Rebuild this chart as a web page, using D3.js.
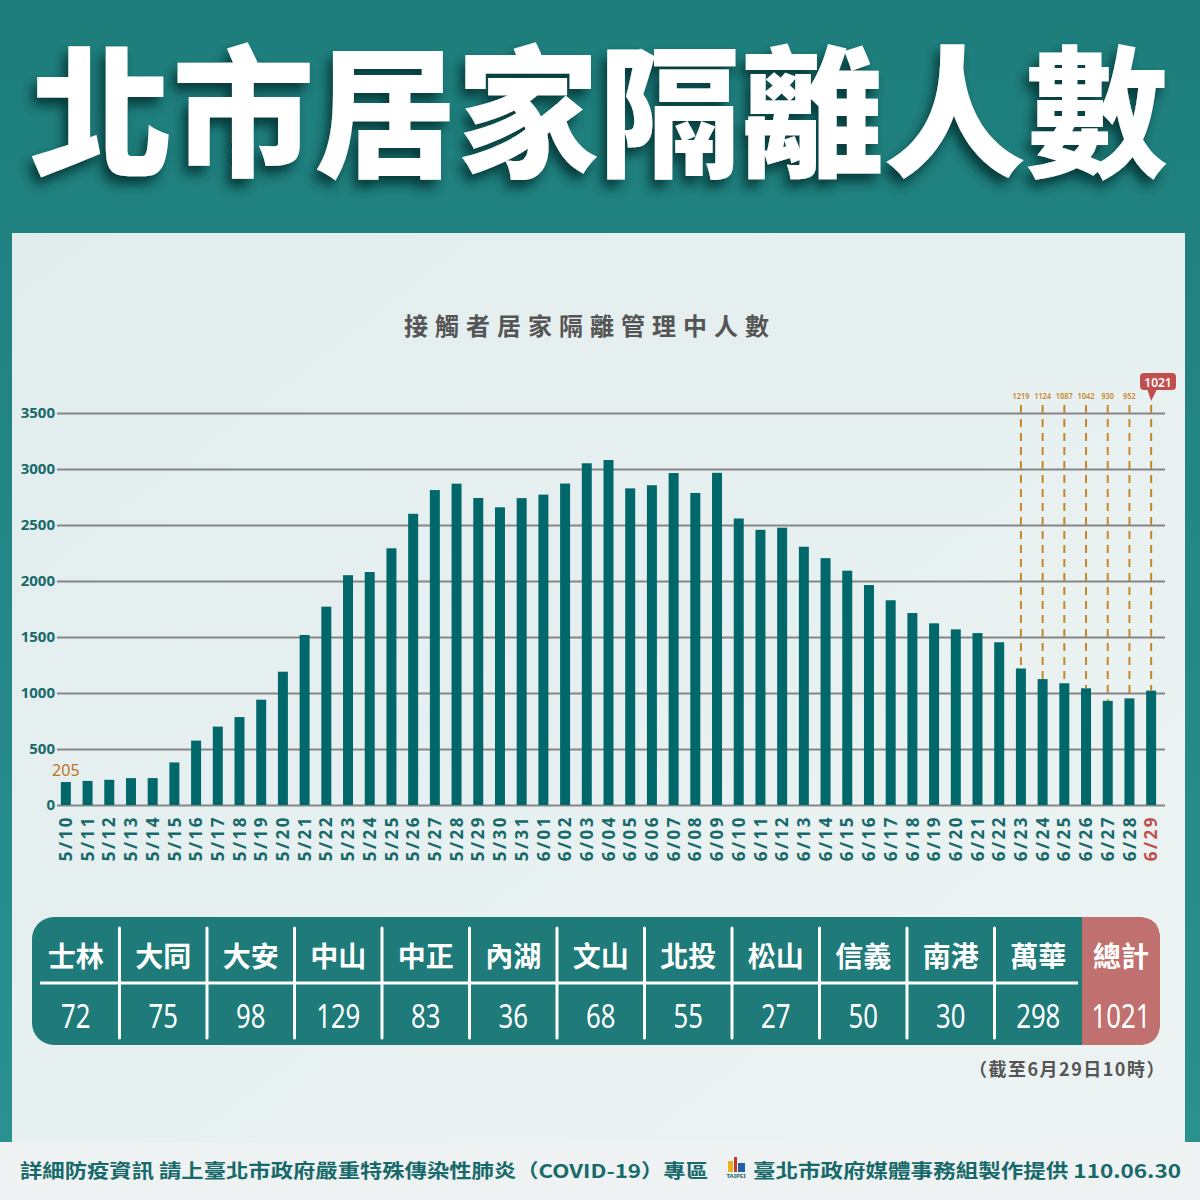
<!DOCTYPE html>
<html><head><meta charset="utf-8">
<script src="https://cdn.jsdelivr.net/npm/d3@7"></script>
<style>
html,body{margin:0;padding:0;background:#1f8683;}
svg{display:block;}
</style></head>
<body>
<script>
// ---- data ----
const dates = ["5/10","5/11","5/12","5/13","5/14","5/15","5/16","5/17","5/18","5/19","5/20","5/21","5/22","5/23","5/24","5/25","5/26","5/27","5/28","5/29","5/30","5/31","6/01","6/02","6/03","6/04","6/05","6/06","6/07","6/08","6/09","6/10","6/11","6/12","6/13","6/14","6/15","6/16","6/17","6/18","6/19","6/20","6/21","6/22","6/23","6/24","6/25","6/26","6/27","6/28","6/29"];
const counts = [205,215,225,240,240,380,575,700,785,940,1190,1518,1771,2052,2080,2292,2600,2812,2869,2741,2658,2740,2771,2870,3051,3080,2827,2855,2964,2786,2966,2558,2457,2476,2306,2204,2092,1964,1828,1714,1622,1568,1535,1453,1219,1124,1087,1042,930,952,1021];
const yTicks = [0,500,1000,1500,2000,2500,3000,3500];
const annotDates = ["6/23","6/24","6/25","6/26","6/27","6/28"];
const annotValues = [1219,1124,1087,1042,930,952];
const lastDate = "6/29";
const lastValue = 1021;
const districts = ["士林","大同","大安","中山","中正","內湖","文山","北投","松山","信義","南港","萬華"];
const districtValues = [72,75,98,129,83,36,68,55,27,50,30,298];
const totalLabel = "總計";
const totalValue = 1021;
const mainTitle = "北市居家隔離人數";
const chartTitle = "接觸者居家隔離管理中人數";
const asOfNote = "（截至6月29日10時）";
const footerLeft = "詳細防疫資訊 請上臺北市政府嚴重特殊傳染性肺炎（COVID-19）專區";
const footerRight = "臺北市政府媒體事務組製作提供 110.06.30";

// ---- drawing ----
const W = 1200, H = 1200;
const CJK = "'Noto Sans CJK TC','Noto Sans',sans-serif";
const NUM = "'Noto Sans','Roboto',sans-serif";
const teal = "#00686a", tealText = "#17696a", orange = "#c8862a", red = "#c0504d";

const svg = d3.select("body").append("svg").attr("width", W).attr("height", H);
const defs = svg.append("defs");
const bg = defs.append("linearGradient").attr("id","bg").attr("x1",0).attr("y1",0).attr("x2",0).attr("y2",1);
bg.append("stop").attr("offset","0%").attr("stop-color","#1d7e7c");
bg.append("stop").attr("offset","100%").attr("stop-color","#2a928f");
const pg = defs.append("linearGradient").attr("id","panel").attr("x1",0).attr("y1",0).attr("x2",1).attr("y2",1);
pg.append("stop").attr("offset","0%").attr("stop-color","#e1eded");
pg.append("stop").attr("offset","100%").attr("stop-color","#edf3f3");
const f = defs.append("filter").attr("id","shadow").attr("x","-10%").attr("y","-20%").attr("width","130%").attr("height","160%");
f.append("feDropShadow").attr("dx",-5).attr("dy",8).attr("stdDeviation",6).attr("flood-color","#062e2d").attr("flood-opacity",0.85);

svg.append("rect").attr("width",W).attr("height",H).attr("fill","url(#bg)");
svg.append("rect").attr("x",12).attr("y",233).attr("width",1173).attr("height",920).attr("fill","url(#panel)");
svg.append("rect").attr("x",0).attr("y",1142).attr("width",W).attr("height",58).attr("fill","#eef2f2");

// main title
svg.append("text").attr("x",30).attr("y",104)
  .attr("dominant-baseline","central")
  .attr("textLength",1138).attr("lengthAdjust","spacingAndGlyphs")
  .attr("font-family",CJK).attr("font-weight",900).attr("font-size",142)
  .attr("fill","#ffffff").attr("filter","url(#shadow)")
  .text(mainTitle);

// chart title
svg.append("text").attr("x",590).attr("y",324).attr("text-anchor","middle")
  .attr("dominant-baseline","central")
  .attr("font-family",CJK).attr("font-weight",700).attr("font-size",24)
  .attr("letter-spacing",7).attr("fill","#555555").text(chartTitle);

// scales
const x = d3.scaleBand().domain(dates).range([55,1162]).paddingInner(0.54).paddingOuter(0.27);
const y = d3.scaleLinear().domain([0,3500]).range([805,413]);

// gridlines + y labels
const yAxis = d3.axisLeft(y).tickValues(yTicks).tickSize(-(1165-57)).tickPadding(4).tickFormat(d3.format("d"));
const gy = svg.append("g").attr("transform","translate(57,0)").call(yAxis);
gy.select(".domain").remove();
gy.selectAll(".tick line").attr("stroke","#858585").attr("stroke-width",2);
gy.selectAll(".tick text").attr("font-family","'Noto Sans',sans-serif").attr("font-weight",700)
  .attr("font-size",15).attr("fill",tealText).attr("x",-2);

// bars
svg.append("g").selectAll("rect").data(dates).join("rect")
  .attr("x", d => x(d)).attr("width", x.bandwidth())
  .attr("y", (d,i) => y(counts[i])).attr("height", (d,i) => y(0) - y(counts[i]))
  .attr("fill", teal);

// x labels (rotated)
const xAxis = d3.axisBottom(x).tickSize(0).tickPadding(0);
const gx = svg.append("g").attr("transform","translate(0,805)").call(xAxis);
gx.select(".domain").remove();
gx.selectAll(".tick text")
  .attr("transform","rotate(-90)").attr("x",-10).attr("y",0).attr("dy","0.36em")
  .attr("text-anchor","end").attr("font-family","'Noto Sans',sans-serif").attr("font-weight",700)
  .attr("font-size",17).attr("letter-spacing",2.5)
  .attr("fill", d => d === lastDate ? red : tealText);

// 205 label on first bar
svg.append("text").attr("x", x(dates[0]) + x.bandwidth()/2).attr("y", y(counts[0]) - 6)
  .attr("text-anchor","middle").attr("font-family","'Noto Sans',sans-serif").attr("font-size",16)
  .attr("fill","#bd7418").text(counts[0]);

// annotations
const ag = svg.append("g");
annotDates.forEach((d,i) => {
  const cx = x(d) + x.bandwidth()/2;
  ag.append("line").attr("x1",cx).attr("x2",cx).attr("y1",405).attr("y2",y(annotValues[i]))
    .attr("stroke",orange).attr("stroke-width",2).attr("stroke-dasharray","8,6");
  ag.append("text").attr("transform",`translate(${cx},399) scale(0.78,1)`).attr("text-anchor","middle")
    .attr("font-family","'Noto Sans',sans-serif").attr("font-size",9.5).attr("font-weight",600).attr("fill",orange)
    .text(annotValues[i]);
});
{
  const cx = x(lastDate) + x.bandwidth()/2;
  ag.append("line").attr("x1",cx).attr("x2",cx).attr("y1",405).attr("y2",y(lastValue))
    .attr("stroke",orange).attr("stroke-width",2).attr("stroke-dasharray","8,6");
  ag.append("rect").attr("x",1140).attr("y",373).attr("width",36).attr("height",17).attr("rx",4).attr("fill",red);
  ag.append("path").attr("d",`M${cx-4},389 L${cx+6},389 L${cx},401 Z`).attr("fill",red);
  ag.append("text").attr("x",1158).attr("y",382).attr("text-anchor","middle").attr("dominant-baseline","central")
    .attr("font-family","'Noto Sans',sans-serif").attr("font-size",12).attr("font-weight",600).attr("fill","#ffffff")
    .text(lastValue);
}

// table
const tx0 = 32, tx1 = 1160, ty0 = 917, ty1 = 1045, colW = 87.5;
const tg = svg.append("g");
tg.append("rect").attr("x",tx0).attr("y",ty0).attr("width",tx1-tx0).attr("height",ty1-ty0).attr("rx",22).attr("fill","#1e7b7a");
const totX = tx0 + colW*districts.length;
tg.append("path").attr("d",
  `M${totX},${ty0} L${tx1-22},${ty0} Q${tx1},${ty0} ${tx1},${ty0+22} L${tx1},${ty1-22} Q${tx1},${ty1} ${tx1-22},${ty1} L${totX},${ty1} Z`)
  .attr("fill","#c0706e");
tg.append("line").attr("x1",40).attr("x2",totX-4).attr("y1",983).attr("y2",983).attr("stroke","#ffffff").attr("stroke-width",3);
for (let i=1;i<districts.length;i++){
  const sx = tx0 + colW*i;
  tg.append("line").attr("x1",sx).attr("x2",sx).attr("y1",928).attr("y2",1038).attr("stroke","#ffffff").attr("stroke-width",3).attr("stroke-linecap","round");
}
function numText(cx, v){
  tg.append("text").attr("transform",`translate(${cx},1015) scale(0.78,1)`).attr("text-anchor","middle")
    .attr("dominant-baseline","central")
    .attr("font-family",NUM).attr("font-size",33).attr("fill","#ffffff").text(v);
}
districts.forEach((d,i) => {
  const cx = tx0 + colW*i + colW/2;
  tg.append("text").attr("x",cx).attr("y",955).attr("text-anchor","middle").attr("dominant-baseline","central")
    .attr("font-family",CJK).attr("font-weight",700).attr("font-size",28).attr("fill","#ffffff").text(d);
  numText(cx, districtValues[i]);
});
{
  const cx = (totX + tx1)/2;
  tg.append("text").attr("x",cx).attr("y",955).attr("text-anchor","middle").attr("dominant-baseline","central")
    .attr("font-family",CJK).attr("font-weight",700).attr("font-size",28).attr("fill","#ffffff").text(totalLabel);
  numText(cx, totalValue);
}
svg.append("text").attr("x",1166).attr("y",1068).attr("text-anchor","end").attr("dominant-baseline","central")
  .attr("font-family",CJK).attr("font-weight",700).attr("font-size",18).attr("letter-spacing",1.5)
  .attr("fill","#555555").text(asOfNote);

// footer
svg.append("text").attr("x",20).attr("y",1169).attr("dominant-baseline","central")
  .attr("font-family",CJK).attr("font-weight",700).attr("font-size",19).attr("fill","#17696a")
  .attr("textLength",688).attr("lengthAdjust","spacingAndGlyphs").text(footerLeft);
const lg = svg.append("g").attr("transform","translate(724,1157)");
lg.append("rect").attr("x",4).attr("y",4).attr("width",5).attr("height",11).attr("fill","#e8b21c");
lg.append("rect").attr("x",10).attr("y",0).attr("width",3).attr("height",15).attr("fill","#c0392b");
lg.append("rect").attr("x",14).attr("y",6).attr("width",7).attr("height",9).attr("fill","#1f5fa8");
lg.append("text").attr("x",12).attr("y",21).attr("text-anchor","middle").attr("font-family","'Noto Sans',sans-serif")
  .attr("font-weight",700).attr("font-size",6).attr("fill","#17696a").text("TAIPEI");
svg.append("text").attr("x",1181).attr("y",1169).attr("text-anchor","end").attr("dominant-baseline","central")
  .attr("font-family",CJK).attr("font-weight",700).attr("font-size",19).attr("fill","#17696a")
  .attr("textLength",428).attr("lengthAdjust","spacingAndGlyphs").text(footerRight);
</script>
</body></html>
